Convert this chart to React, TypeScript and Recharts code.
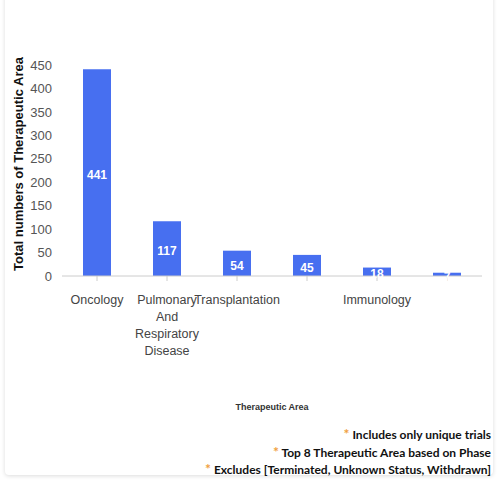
import { BarChart, Bar, XAxis, YAxis, LabelList, Text } from 'recharts';

// labels of the 4th and 6th categories are hidden in the original chart
const categories = ['Oncology', 'Pulmonary And Respiratory Disease', 'Transplantation', '', 'Immunology', ''];
const trials = [441, 117, 54, 45, 18, 7];
const yTicks = [0, 50, 100, 150, 200, 250, 300, 350, 400, 450];
const footnotes = [
  'Includes only unique trials',
  'Top 8 Therapeutic Area based on Phase',
  'Excludes [Terminated, Unknown Status, Withdrawn]',
];

const chartData = categories.map((name, i) => ({ name, trials: trials[i] }));

const FONT = 'Arial, "Liberation Sans", sans-serif';

function CategoryTick(props: any) {
  const { x, y, payload } = props;
  if (!payload.value) return null;
  return (
    <Text
      x={x}
      y={y}
      width={70}
      textAnchor="middle"
      verticalAnchor="start"
      lineHeight={17}
      fontSize={12.5}
      fill="#444"
      fontFamily={FONT}
    >
      {payload.value}
    </Text>
  );
}

export default function App() {
  return (
    <div style={{ position: 'absolute', left: 0, top: 0, width: 500, height: 500, background: '#fff' }}>
      <div
        style={{
          position: 'absolute',
          left: 5,
          top: -10,
          width: 488,
          height: 485,
          borderRadius: 4,
          boxShadow: '0 1px 4px rgba(0,0,0,0.14)',
          background: '#fff',
        }}
      />
      <div style={{ position: 'absolute', left: 0, top: 0 }}>
        <BarChart
          width={500}
          height={420}
          data={chartData}
          margin={{ top: 65, right: 18, left: 0, bottom: 0 }}
          barCategoryGap="30%"
        >
          <XAxis
            dataKey="name"
            interval={0}
            height={144}
            stroke="#ccc"
            tickSize={5}
            tickMargin={14}
            tick={<CategoryTick />}
            label={{
              content: () => (
                <text x={272} y={410} textAnchor="middle" fontSize={9} fontWeight={700} fill="#333" fontFamily={FONT}>
                  Therapeutic Area
                </text>
              ),
            }}
          />
          <YAxis
            width={62}
            domain={[0, 450]}
            ticks={yTicks}
            axisLine={false}
            tickLine={false}
            tickMargin={4}
            tick={{ fill: '#555', fontSize: 13, fontFamily: FONT }}
            label={{
              content: () => (
                <text
                  x={18}
                  y={164}
                  transform="rotate(-90 18 164)"
                  textAnchor="middle"
                  dominantBaseline="central"
                  fontSize={13}
                  fontWeight={700}
                  fill="#111"
                  fontFamily={FONT}
                >
                  Total numbers of Therapeutic Area
                </text>
              ),
            }}
          />
          <Bar dataKey="trials" fill="#476ff0" isAnimationActive={false}>
            <LabelList
              dataKey="trials"
              position="center"
              fill="#fff"
              fontSize={12}
              fontWeight={700}
              fontFamily={FONT}
              offset={0}
              dy={2}
            />
          </Bar>
        </BarChart>
      </div>
      <div
        style={{
          position: 'absolute',
          right: 9,
          top: 426,
          textAlign: 'right',
          fontFamily: 'Lato, sans-serif',
          fontWeight: 700,
          fontSize: 12,
          lineHeight: '16.5px',
          color: '#111',
        }}
      >
        {footnotes.map((f) => (
          <div key={f}>
            <span style={{ color: '#f0a040', fontSize: 14 }}>*</span> {f}
          </div>
        ))}
      </div>
    </div>
  );
}
